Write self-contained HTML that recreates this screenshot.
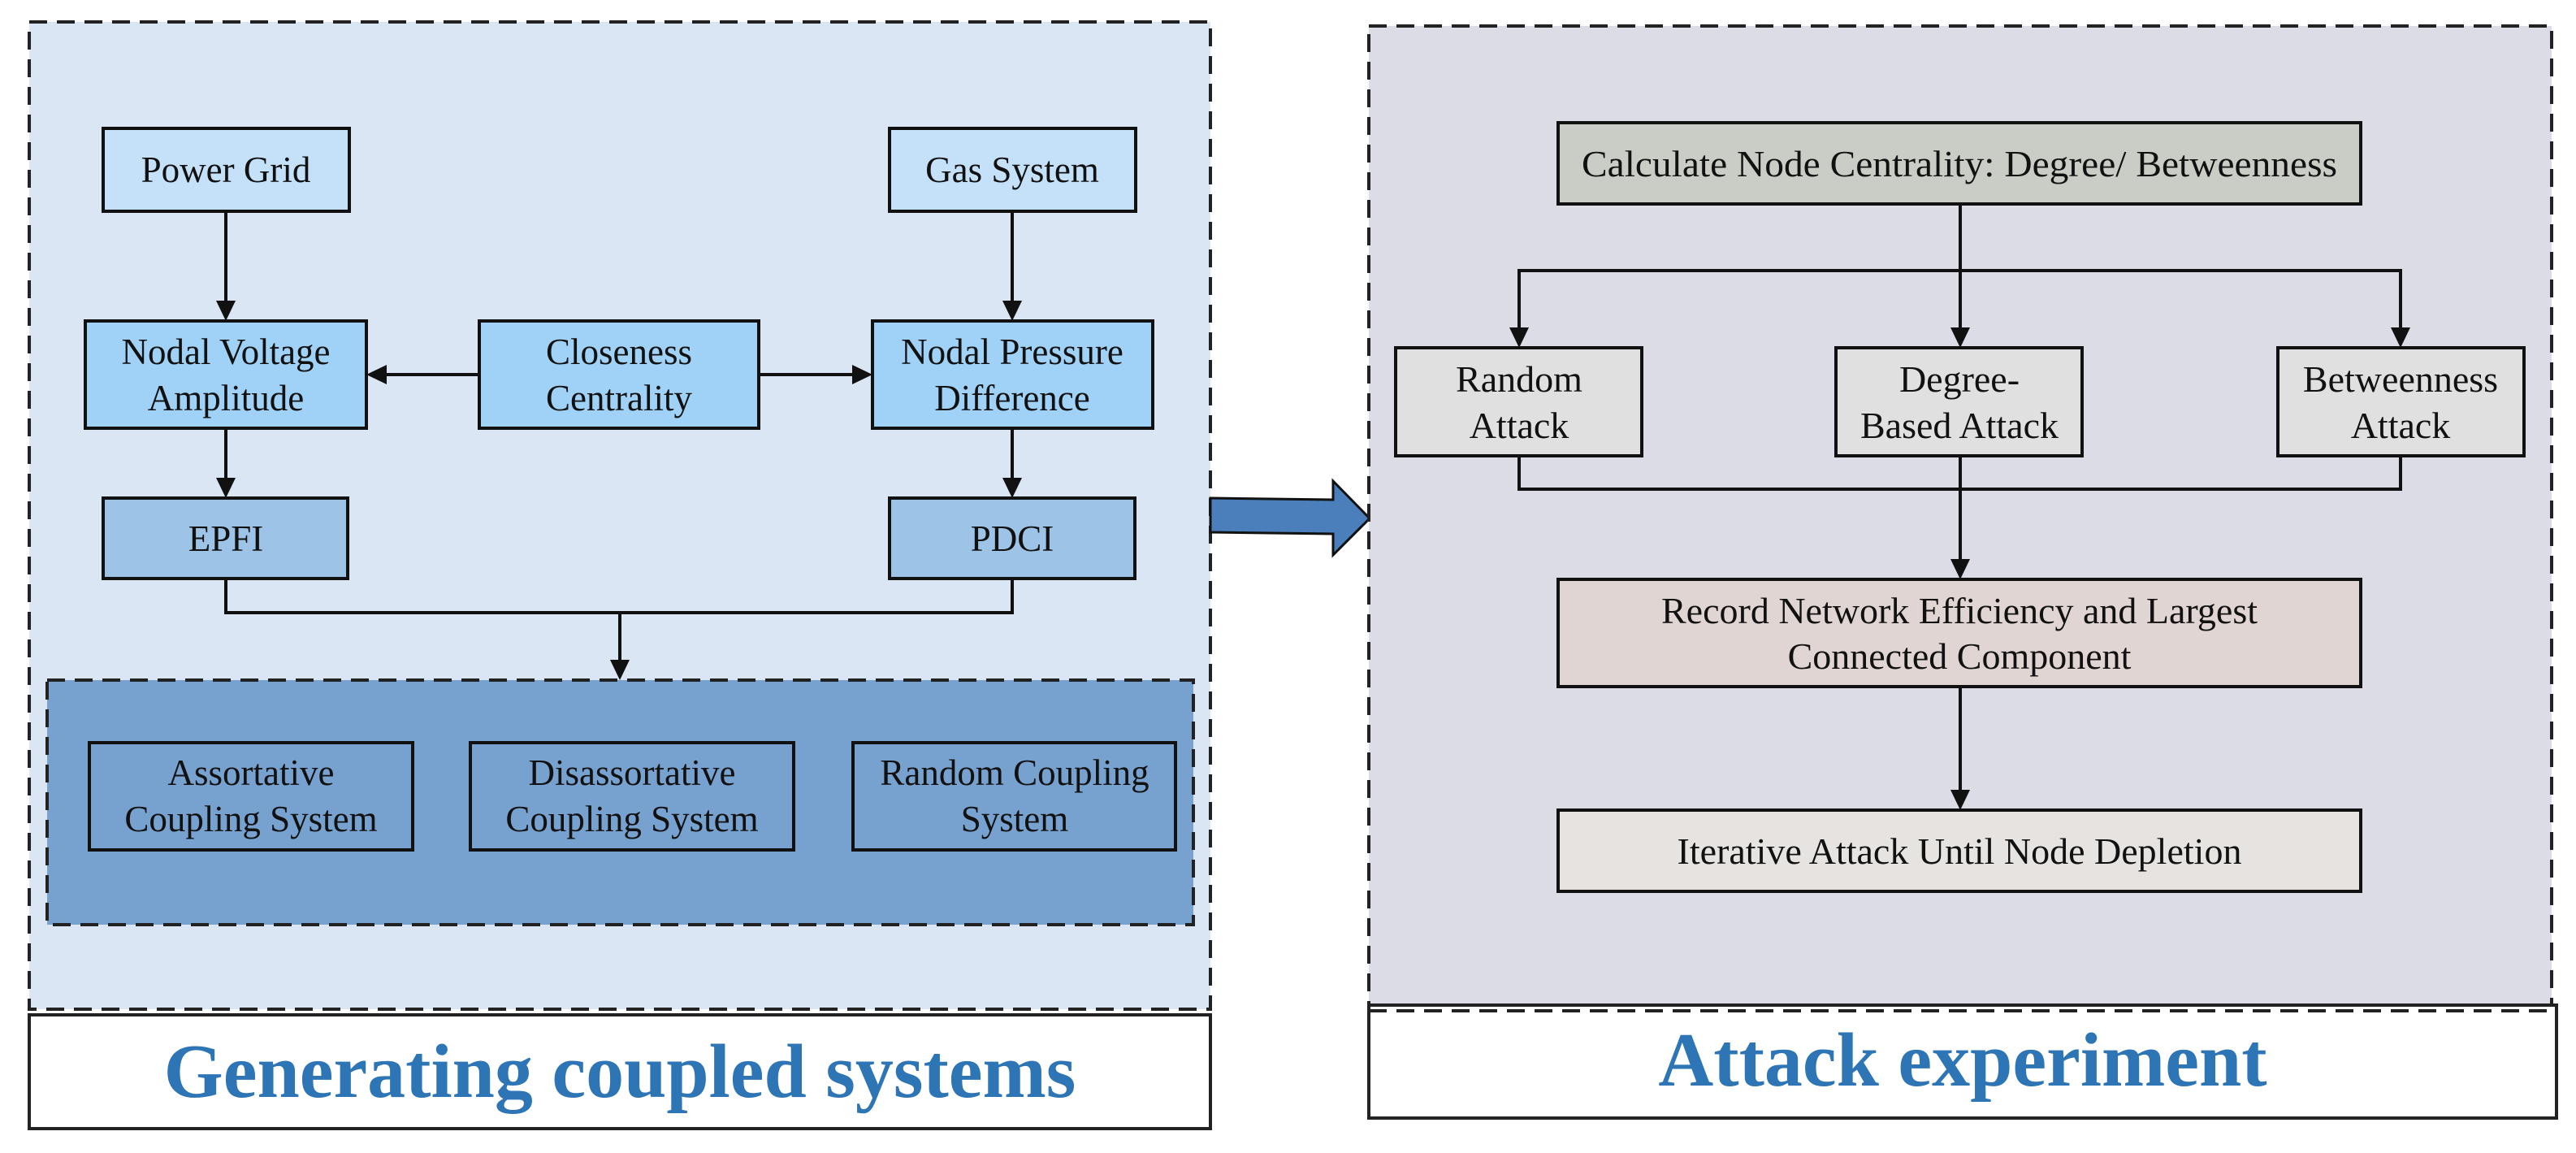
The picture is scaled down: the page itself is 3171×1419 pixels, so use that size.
<!DOCTYPE html>
<html><head><meta charset="utf-8"><style>
html,body{margin:0;padding:0;background:#fff;}
svg{display:block;}
text{font-family:"Liberation Serif",serif;fill:#111;}
</style></head><body>
<svg width="3171" height="1419" viewBox="0 0 3171 1419" xmlns="http://www.w3.org/2000/svg">
<!-- LEFT PANEL -->
<rect x="36" y="27" width="1454" height="1215" fill="#dae6f3" stroke="#222" stroke-width="4" stroke-dasharray="22,12"/>
<rect x="36" y="1249" width="1454" height="140" fill="#fff" stroke="#222" stroke-width="4"/>
<text x="763" y="1350" text-anchor="middle" font-size="94" font-weight="bold" style="fill:#2e75b6">Generating coupled systems</text>

<g stroke="#111" stroke-width="4">
<rect x="127" y="158" width="303" height="102" fill="#c5e0f9"/>
<rect x="1095" y="158" width="303" height="102" fill="#c5e0f9"/>
<rect x="105" y="395" width="346" height="132" fill="#9fd2f6"/>
<rect x="590" y="395" width="344" height="132" fill="#9fd2f6"/>
<rect x="1074" y="395" width="345" height="132" fill="#9fd2f6"/>
<rect x="127" y="613" width="301" height="99" fill="#9dc3e6"/>
<rect x="1095" y="613" width="302" height="99" fill="#9dc3e6"/>
</g>
<rect x="58" y="837" width="1411" height="301" fill="#77a2cf" stroke="#222" stroke-width="4" stroke-dasharray="22,12"/>
<g stroke="#111" stroke-width="4" fill="#77a2cf">
<rect x="110" y="914" width="398" height="132"/>
<rect x="579" y="914" width="398" height="132"/>
<rect x="1050" y="914" width="397" height="132"/>
</g>
<g font-size="45" text-anchor="middle">
<text x="278" y="224">Power Grid</text>
<text x="1246" y="224">Gas System</text>
<text x="278" y="448">Nodal Voltage</text><text x="278" y="505">Amplitude</text>
<text x="762" y="448">Closeness</text><text x="762" y="505">Centrality</text>
<text x="1246" y="448">Nodal Pressure</text><text x="1246" y="505">Difference</text>
<text x="278" y="678">EPFI</text>
<text x="1246" y="678">PDCI</text>
<text x="309" y="966">Assortative</text><text x="309" y="1023">Coupling System</text>
<text x="778" y="966">Disassortative</text><text x="778" y="1023">Coupling System</text>
<text x="1249" y="966">Random Coupling</text><text x="1249" y="1023">System</text>
</g>
<g stroke="#111" stroke-width="4" fill="none">
<line x1="278" y1="260" x2="278" y2="372"/>
<line x1="1246" y1="260" x2="1246" y2="372"/>
<line x1="590" y1="461" x2="474" y2="461"/>
<line x1="934" y1="461" x2="1051" y2="461"/>
<line x1="278" y1="527" x2="278" y2="590"/>
<line x1="1246" y1="527" x2="1246" y2="590"/>
<polyline points="278,712 278,754 1246,754 1246,712"/>
<line x1="763" y1="754" x2="763" y2="814"/>
</g>
<g fill="#111">
<polygon points="266,370 290,370 278,395"/>
<polygon points="1234,370 1258,370 1246,395"/>
<polygon points="476,449 476,473 451,461"/>
<polygon points="1049,449 1049,473 1074,461"/>
<polygon points="266,588 290,588 278,613"/>
<polygon points="1234,588 1258,588 1246,613"/>
<polygon points="751,812 775,812 763,837"/>
</g>

<!-- ARROW -->
<polygon points="1490,613 1641,615 1641,592 1686,638 1641,683 1641,657 1490,655" fill="#4a7fbc" stroke="#111" stroke-width="3"/>

<!-- RIGHT PANEL -->
<rect x="1685" y="32" width="1456" height="1212" fill="#dcdce6" stroke="#222" stroke-width="4" stroke-dasharray="22,12"/>
<rect x="1685" y="1237" width="1462" height="139" fill="#fff" stroke="#222" stroke-width="4"/>
<line x1="1685" y1="1244" x2="3141" y2="1244" stroke="#222" stroke-width="4" stroke-dasharray="22,12"/>
<text x="2416" y="1336" text-anchor="middle" font-size="94" font-weight="bold" style="fill:#2e75b6">Attack experiment</text>

<g stroke="#111" stroke-width="4">
<rect x="1918" y="151" width="988" height="100" fill="#c9cdc6"/>
<rect x="1718" y="428" width="303" height="133" fill="#e0e0e0"/>
<rect x="2260" y="428" width="303" height="133" fill="#e0e0e0"/>
<rect x="2804" y="428" width="303" height="133" fill="#e0e0e0"/>
<rect x="1918" y="713" width="988" height="132" fill="#e0d5d3"/>
<rect x="1918" y="997" width="988" height="100" fill="#e6e3e1"/>
</g>
<g font-size="46" text-anchor="middle">
<text x="2412" y="217" textLength="930" lengthAdjust="spacingAndGlyphs">Calculate Node Centrality: Degree/ Betweenness</text>
<text x="1870" y="482">Random</text><text x="1870" y="539">Attack</text>
<text x="2412" y="482">Degree-</text><text x="2412" y="539">Based Attack</text>
<text x="2955" y="482">Betweenness</text><text x="2955" y="539">Attack</text>
<text x="2412" y="767">Record Network Efficiency and Largest</text>
<text x="2412" y="823">Connected Component</text>
<text x="2412" y="1063">Iterative Attack Until Node Depletion</text>
</g>
<g stroke="#111" stroke-width="4" fill="none">
<line x1="2413" y1="251" x2="2413" y2="405"/>
<polyline points="1870,405 1870,333 2955,333 2955,405"/>
<polyline points="1870,561 1870,602 2955,602 2955,561"/>
<line x1="2413" y1="561" x2="2413" y2="690"/>
<line x1="2413" y1="845" x2="2413" y2="974"/>
</g>
<g fill="#111">
<polygon points="1858,403 1882,403 1870,428"/>
<polygon points="2401,403 2425,403 2413,428"/>
<polygon points="2943,403 2967,403 2955,428"/>
<polygon points="2401,688 2425,688 2413,713"/>
<polygon points="2401,972 2425,972 2413,997"/>
</g>
</svg>
</body></html>
